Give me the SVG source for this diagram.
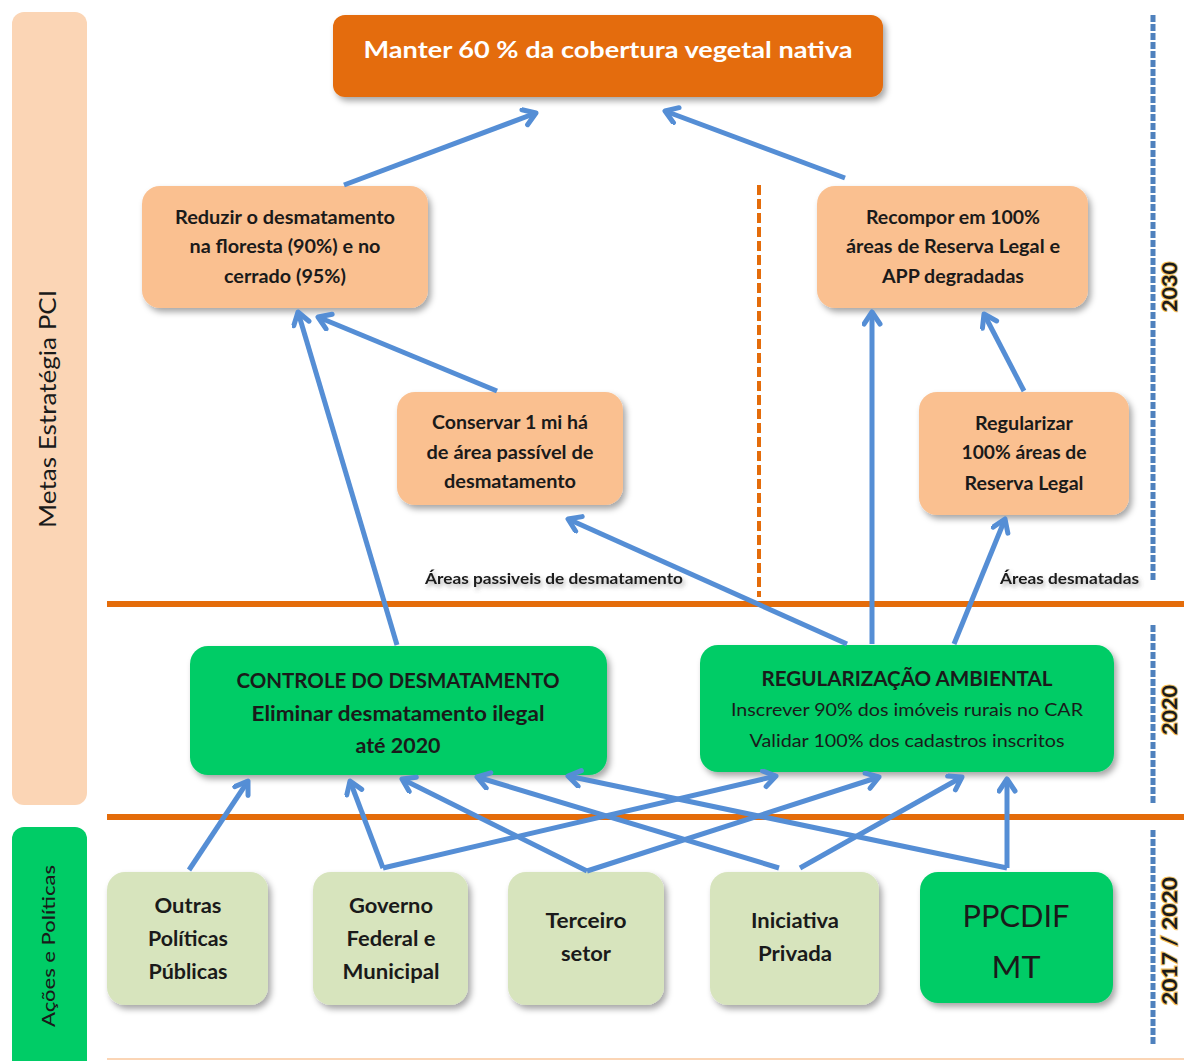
<svg xmlns="http://www.w3.org/2000/svg" width="1184" height="1061" viewBox="0 0 1184 1061">
<defs>
<filter id="sh" x="-10%" y="-10%" width="125%" height="130%">
<feDropShadow dx="3" dy="4" stdDeviation="3" flood-color="#000" flood-opacity="0.35"/>
</filter>
<filter id="tsh" x="-10%" y="-40%" width="120%" height="200%">
<feDropShadow dx="2" dy="3" stdDeviation="2" flood-color="#555" flood-opacity="0.45"/>
</filter>
<marker id="ah" markerUnits="userSpaceOnUse" markerWidth="24" markerHeight="24" refX="15" refY="10" orient="auto">
<path d="M3,2 L15,10 L3,18" fill="none" stroke="#558ED5" stroke-width="5" stroke-linecap="round" stroke-linejoin="round"/>
</marker>
<style>
text{font-family:Lato,"Open Sans","Liberation Sans",sans-serif;fill:#1a1a1a;}
.t18{font-size:18px;font-weight:bold;text-anchor:middle;}
.t20{font-size:20px;font-weight:bold;text-anchor:middle;}
.t17{font-size:18px;text-anchor:middle;}
.lab{font-size:16px;font-weight:bold;filter:url(#tsh);}
.yr{font-size:20px;font-weight:bold;text-anchor:middle;stroke:#F0C060;stroke-width:2;paint-order:stroke;}
.pe{fill:#FAC090;filter:url(#sh);}
.gr{fill:#00CC66;filter:url(#sh);}
.lg{fill:#D7E4BD;filter:url(#sh);}
.c{fill:none;stroke:#558ED5;stroke-width:5;marker-end:url(#ah);}
.ol{stroke:#E46C0A;stroke-width:6;}
.bd{stroke:#4F81BD;stroke-width:5;stroke-dasharray:7 2;}
</style>
</defs>
<rect width="1184" height="1061" fill="#fff"/>

<g id="panel-metas">
<rect x="12" y="12" width="75" height="793" rx="12" fill="#FBD5B5"/>
<text transform="translate(56,409) rotate(-90)" style="font-size:24px;text-anchor:middle" textLength="238" lengthAdjust="spacingAndGlyphs">Metas Estratégia PCI</text>
</g>
<g id="panel-acoes">
<rect x="12" y="827" width="75" height="250" rx="12" fill="#00CC66"/>
<text transform="translate(55,946) rotate(-90)" style="font-size:18px;font-weight:500;text-anchor:middle" textLength="162" lengthAdjust="spacingAndGlyphs">Ações e Políticas</text>
</g>

<g id="separators">
<line x1="107" y1="604" x2="1184" y2="604" class="ol"/>
<line x1="107" y1="817" x2="1184" y2="817" class="ol"/>
<line x1="107" y1="1059" x2="1184" y2="1059" stroke="#FBD5B5" stroke-width="2"/>
<line x1="759" y1="185" x2="759" y2="597" stroke="#E46C0A" stroke-width="4" stroke-dasharray="10 4"/>
<line x1="1153" y1="15" x2="1153" y2="582" class="bd"/>
<line x1="1153" y1="625" x2="1153" y2="805" class="bd"/>
<line x1="1153" y1="830" x2="1153" y2="1045" class="bd"/>
<text class="yr" transform="translate(1177,287) rotate(-90)" textLength="50" lengthAdjust="spacingAndGlyphs">2030</text>
<text class="yr" transform="translate(1177,710) rotate(-90)" textLength="50" lengthAdjust="spacingAndGlyphs">2020</text>
<text class="yr" transform="translate(1177,941) rotate(-90)" textLength="128" lengthAdjust="spacingAndGlyphs">2017 / 2020</text>
<text class="lab" x="425" y="584" textLength="258" lengthAdjust="spacingAndGlyphs">Áreas passiveis de desmatamento</text>
<text class="lab" x="1000" y="584" textLength="139" lengthAdjust="spacingAndGlyphs">Áreas desmatadas</text>
</g>

<g id="node-manter">
<rect x="333" y="15" width="550" height="82" rx="12" fill="#E46C0A" filter="url(#sh)"/>
<text x="608" y="58" style="font-size:23px;font-weight:bold;text-anchor:middle;fill:#fff" textLength="489" lengthAdjust="spacingAndGlyphs">Manter 60 % da cobertura vegetal nativa</text>
</g>
<g id="node-reduzir">
<rect class="pe" x="142" y="186" width="286" height="122" rx="18"/>
<text class="t18" x="285" y="224" textLength="220" lengthAdjust="spacingAndGlyphs">Reduzir o desmatamento</text>
<text class="t18" x="285" y="253" textLength="191" lengthAdjust="spacingAndGlyphs">na floresta (90%) e no</text>
<text class="t18" x="285" y="283" textLength="122" lengthAdjust="spacingAndGlyphs">cerrado (95%)</text>
</g>
<g id="node-recompor">
<rect class="pe" x="817" y="186" width="271" height="122" rx="18"/>
<text class="t18" x="953" y="224" textLength="174" lengthAdjust="spacingAndGlyphs">Recompor em 100%</text>
<text class="t18" x="953" y="253" textLength="214" lengthAdjust="spacingAndGlyphs">áreas de Reserva Legal e</text>
<text class="t18" x="953" y="283" textLength="142" lengthAdjust="spacingAndGlyphs">APP degradadas</text>
</g>
<g id="node-conservar">
<rect class="pe" x="397" y="392" width="226" height="113" rx="18"/>
<text class="t18" x="510" y="429" textLength="156" lengthAdjust="spacingAndGlyphs">Conservar 1 mi há</text>
<text class="t18" x="510" y="459" textLength="167" lengthAdjust="spacingAndGlyphs">de área passível de</text>
<text class="t18" x="510" y="488" textLength="132" lengthAdjust="spacingAndGlyphs">desmatamento</text>
</g>
<g id="node-regularizar">
<rect class="pe" x="919" y="392" width="210" height="123" rx="18"/>
<text class="t18" x="1024" y="430" textLength="98" lengthAdjust="spacingAndGlyphs">Regularizar</text>
<text class="t18" x="1024" y="459" textLength="125" lengthAdjust="spacingAndGlyphs">100% áreas de</text>
<text class="t18" x="1024" y="490" textLength="119" lengthAdjust="spacingAndGlyphs">Reserva Legal</text>
</g>
<g id="node-controle">
<rect class="gr" x="190" y="646" width="417" height="129" rx="18"/>
<text class="t20" x="398" y="688" textLength="323" lengthAdjust="spacingAndGlyphs">CONTROLE DO DESMATAMENTO</text>
<text class="t20" x="398" y="721" textLength="293" lengthAdjust="spacingAndGlyphs">Eliminar desmatamento ilegal</text>
<text class="t20" x="398" y="753" textLength="85" lengthAdjust="spacingAndGlyphs">até 2020</text>
</g>
<g id="node-regularizacao">
<rect class="gr" x="700" y="645" width="414" height="127" rx="18"/>
<text class="t20" x="907" y="686" textLength="291" lengthAdjust="spacingAndGlyphs">REGULARIZAÇÃO AMBIENTAL</text>
<text class="t17" x="907" y="716" textLength="352" lengthAdjust="spacingAndGlyphs">Inscrever 90% dos imóveis rurais no CAR</text>
<text class="t17" x="907" y="747" textLength="315" lengthAdjust="spacingAndGlyphs">Validar 100% dos cadastros inscritos</text>
</g>
<g id="node-outras">
<rect class="lg" x="107" y="872" width="161" height="133" rx="18"/>
<text class="t20" x="188" y="913" textLength="67" lengthAdjust="spacingAndGlyphs">Outras</text>
<text class="t20" x="188" y="946" textLength="80" lengthAdjust="spacingAndGlyphs">Políticas</text>
<text class="t20" x="188" y="979" textLength="79" lengthAdjust="spacingAndGlyphs">Públicas</text>
</g>
<g id="node-governo">
<rect class="lg" x="313" y="872" width="155" height="133" rx="18"/>
<text class="t20" x="391" y="913" textLength="84" lengthAdjust="spacingAndGlyphs">Governo</text>
<text class="t20" x="391" y="946" textLength="89" lengthAdjust="spacingAndGlyphs">Federal e</text>
<text class="t20" x="391" y="979" textLength="97" lengthAdjust="spacingAndGlyphs">Municipal</text>
</g>
<g id="node-terceiro">
<rect class="lg" x="508" y="872" width="156" height="133" rx="18"/>
<text class="t20" x="586" y="928" textLength="81" lengthAdjust="spacingAndGlyphs">Terceiro</text>
<text class="t20" x="586" y="961" textLength="50" lengthAdjust="spacingAndGlyphs">setor</text>
</g>
<g id="node-iniciativa">
<rect class="lg" x="710" y="872" width="169" height="133" rx="18"/>
<text class="t20" x="795" y="928" textLength="88" lengthAdjust="spacingAndGlyphs">Iniciativa</text>
<text class="t20" x="795" y="961" textLength="74" lengthAdjust="spacingAndGlyphs">Privada</text>
</g>
<g id="node-ppcdif">
<rect class="gr" x="920" y="872" width="193" height="131" rx="18"/>
<text x="1016" y="927" style="font-size:30px;text-anchor:middle" textLength="107" lengthAdjust="spacingAndGlyphs">PPCDIF</text>
<text x="1016" y="978" style="font-size:30px;text-anchor:middle" textLength="49" lengthAdjust="spacingAndGlyphs">MT</text>
</g>

<g id="connectors">
<line class="c" x1="344" y1="185" x2="536" y2="113"/>
<line class="c" x1="845" y1="178" x2="665" y2="111"/>
<line class="c" x1="397" y1="645" x2="298" y2="312"/>
<line class="c" x1="497" y1="391" x2="318" y2="317"/>
<line class="c" x1="847" y1="644" x2="568" y2="519"/>
<line class="c" x1="872" y1="644" x2="872" y2="312"/>
<line class="c" x1="954" y1="644" x2="1005" y2="519"/>
<line class="c" x1="1024" y1="391" x2="984" y2="314"/>
<line class="c" x1="189" y1="870" x2="248" y2="781"/>
<line class="c" x1="383" y1="868" x2="350" y2="781"/>
<line class="c" x1="383" y1="868" x2="776" y2="776"/>
<line class="c" x1="587" y1="871" x2="402" y2="779"/>
<line class="c" x1="587" y1="871" x2="879" y2="777"/>
<line class="c" x1="779" y1="868" x2="477" y2="777"/>
<line class="c" x1="800" y1="868" x2="962" y2="777"/>
<line class="c" x1="1007" y1="868" x2="568" y2="776"/>
<line class="c" x1="1007" y1="868" x2="1007" y2="779"/>
</g>
</svg>
